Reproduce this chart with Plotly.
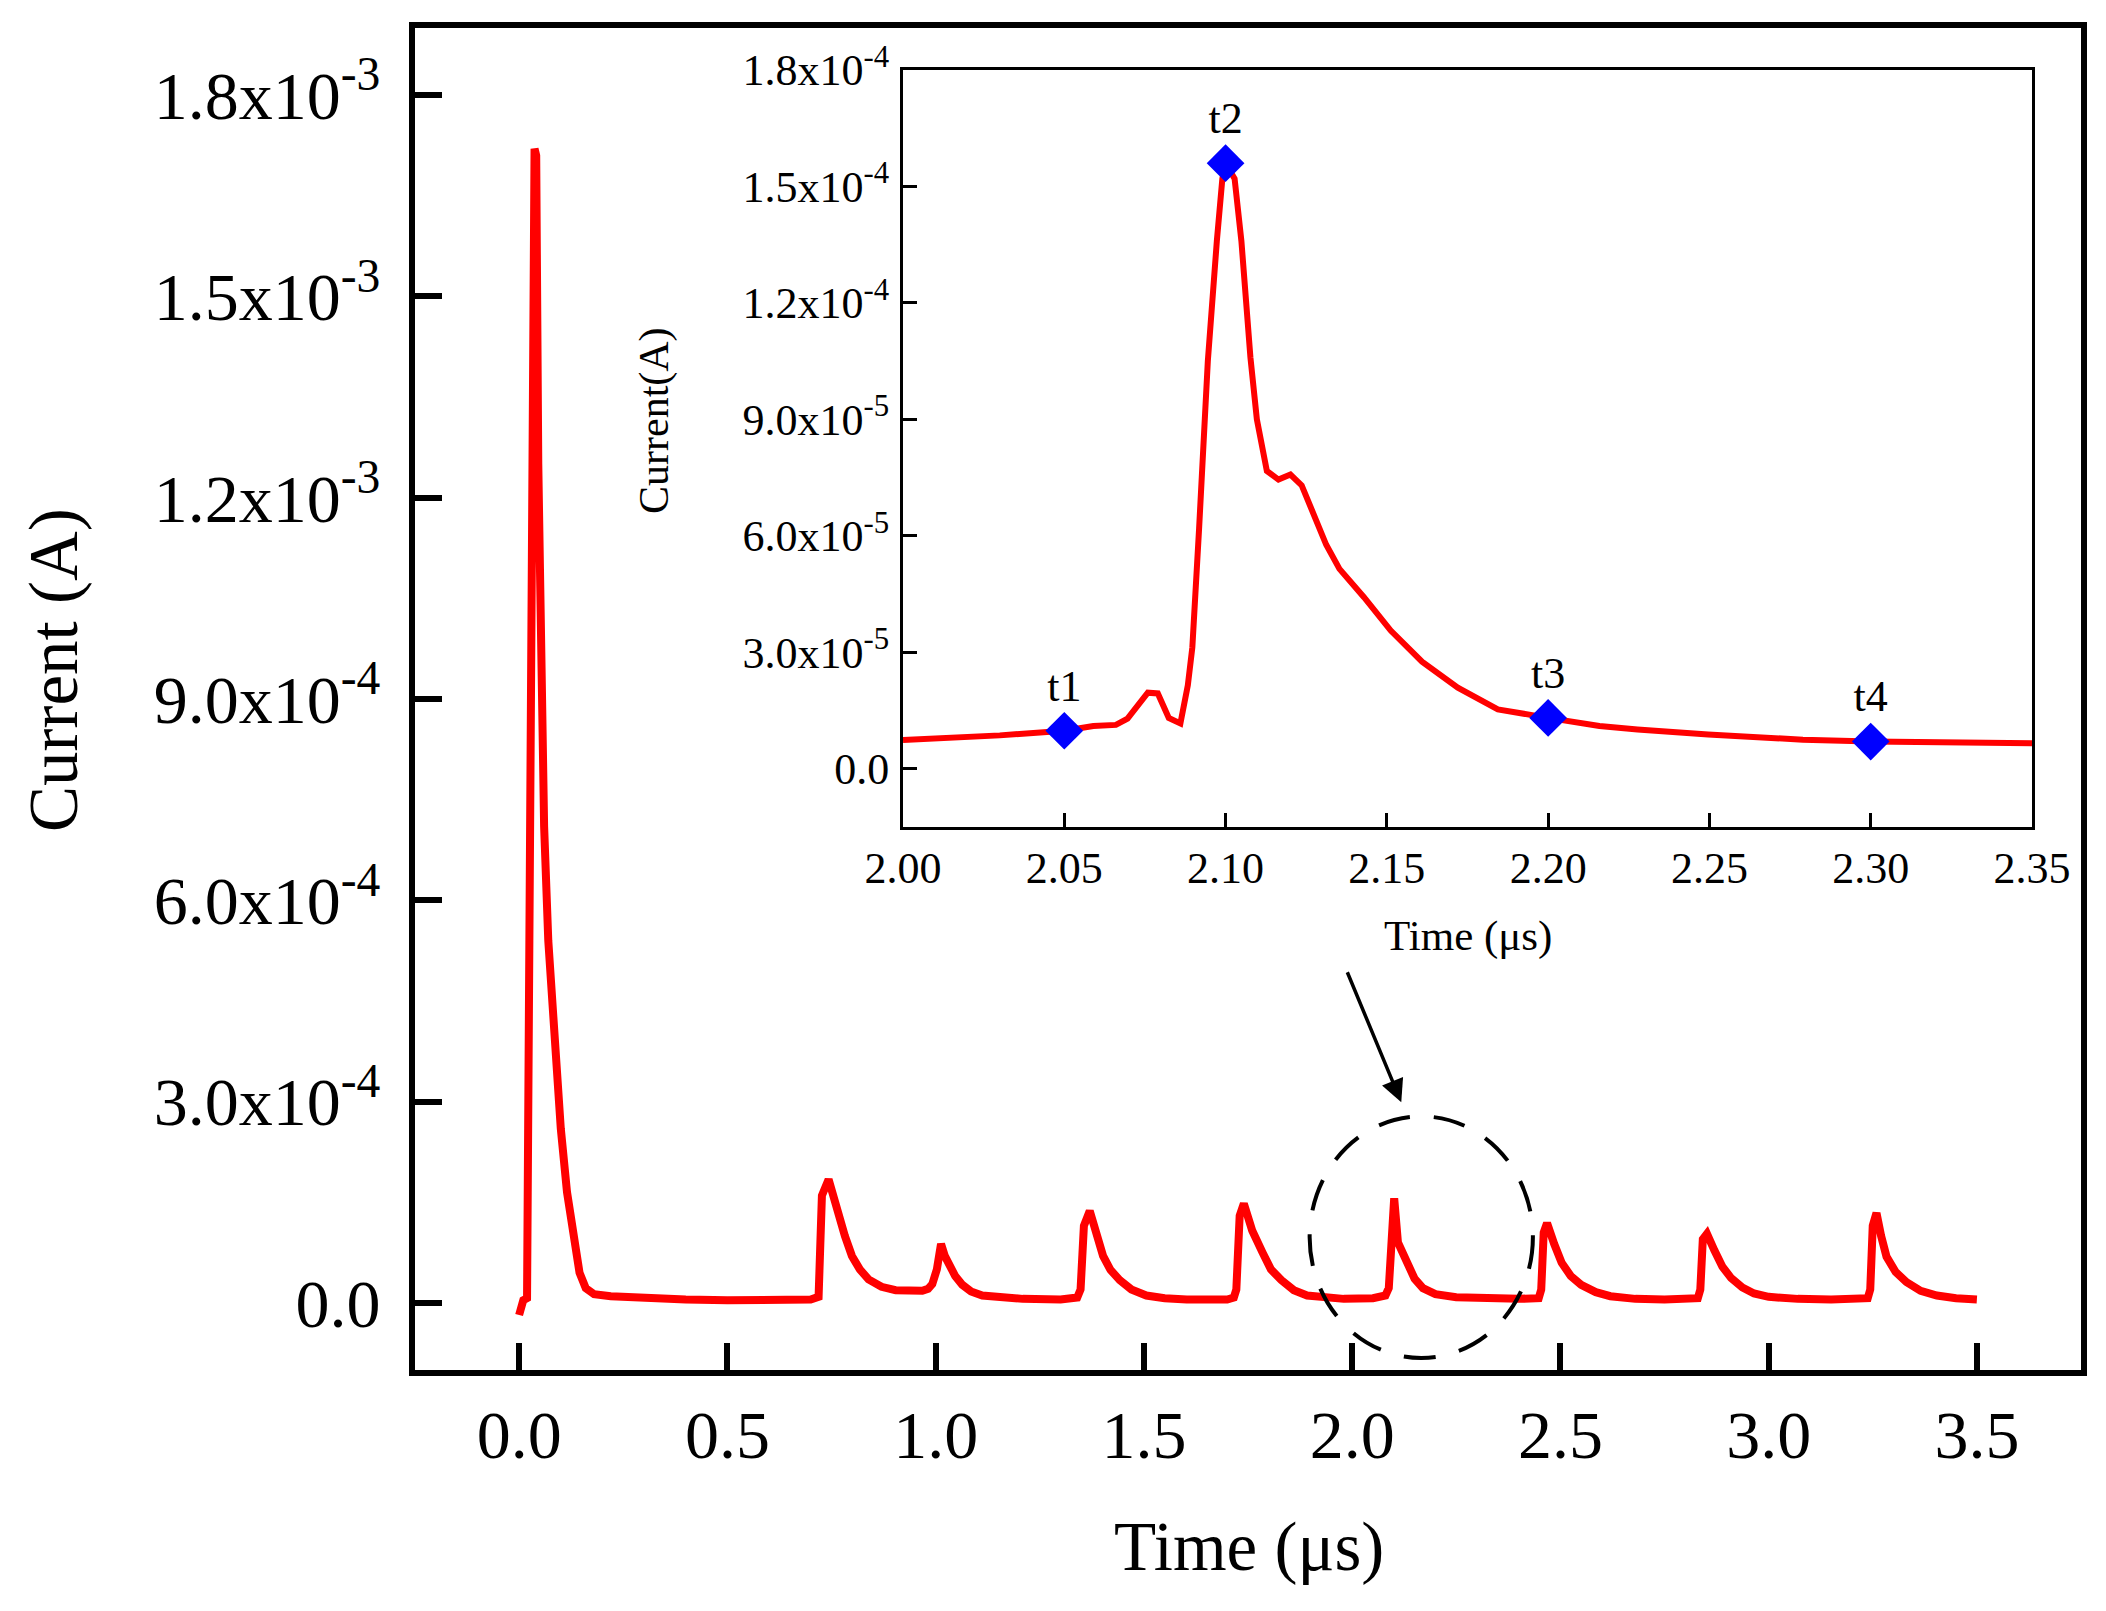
import plotly.graph_objects as go

# main trace (time in us, current in A), one line per pulse
time_main = [0.000, 0.006, 0.010, 0.019, 0.037, 0.041, 0.046, 0.052, 0.060, 0.070,
             0.085, 0.100, 0.115, 0.130, 0.145, 0.160, 0.180, 0.220, 0.300, 0.400,
             0.500, 0.600, 0.700,
             0.719, 0.727, 0.743, 0.755, 0.767, 0.782, 0.799, 0.818, 0.839, 0.870, 0.904, 0.940, 0.968,
             0.982, 0.992, 1.003, 1.013, 1.022, 1.032, 1.047, 1.064, 1.085, 1.112, 1.150, 1.209, 1.300,
             1.340, 1.348, 1.356, 1.370, 1.385, 1.402, 1.420, 1.442, 1.470, 1.506, 1.550, 1.603, 1.700,
             1.716, 1.722, 1.730, 1.740, 1.760, 1.785, 1.805, 1.830, 1.860, 1.892, 1.930, 1.980, 2.050,
             2.080, 2.088, 2.096, 2.101, 2.110, 2.120, 2.135, 2.150, 2.170, 2.200, 2.250, 2.300, 2.400,
             2.448, 2.454, 2.460, 2.468, 2.485, 2.503, 2.525, 2.550, 2.585, 2.620, 2.680, 2.750,
             2.830, 2.836, 2.842, 2.852, 2.870, 2.889, 2.910, 2.937, 2.965, 3.000, 3.070, 3.150,
             3.238, 3.244, 3.250, 3.259, 3.270, 3.283, 3.305, 3.331, 3.365, 3.404, 3.450, 3.500]
current_main = [-1.8e-5, -0.5e-5, 0.4e-5, 0.7e-5, 1.72e-3, 1.71e-3, 1.25e-3, 9.2e-4, 7.1e-4, 5.4e-4,
                3.8e-4, 2.6e-4, 1.65e-4, 9.5e-5, 4.5e-5, 2.2e-5, 1.3e-5, 1.0e-5, 7e-6, 5e-6,
                4e-6, 4e-6, 5e-6,
                9e-6, 1.60e-4, 1.84e-4, 1.55e-4, 1.30e-4, 1.0e-4, 7.0e-5, 5.0e-5, 3.5e-5, 2.4e-5, 1.9e-5, 1.7e-5, 1.8e-5,
                2.1e-5, 2.8e-5, 5.0e-5, 8.8e-5, 7.0e-5, 5.7e-5, 4.0e-5, 2.7e-5, 1.7e-5, 1.1e-5, 8e-6, 6e-6, 5e-6,
                8e-6, 2.0e-5, 1.15e-4, 1.37e-4, 1.0e-4, 7.0e-5, 4.9e-5, 3.4e-5, 2.0e-5, 1.1e-5, 7e-6, 5e-6, 5e-6,
                8e-6, 2.0e-5, 1.30e-4, 1.48e-4, 1.08e-4, 7.5e-5, 5.0e-5, 3.4e-5, 1.9e-5, 1.1e-5, 8e-6, 6e-6, 7e-6,
                1.1e-5, 2.2e-5, 1.18e-4, 1.56e-4, 9.0e-5, 7.6e-5, 5.2e-5, 3.6e-5, 2.2e-5, 1.3e-5, 8.5e-6, 7e-6, 6e-6,
                7e-6, 2.0e-5, 1.05e-4, 1.19e-4, 8.8e-5, 6.0e-5, 4.0e-5, 2.7e-5, 1.6e-5, 1.0e-5, 6e-6, 5e-6,
                7e-6, 2.0e-5, 9.5e-5, 1.03e-4, 7.8e-5, 5.4e-5, 3.7e-5, 2.3e-5, 1.4e-5, 9e-6, 6e-6, 5e-6,
                7e-6, 2.0e-5, 1.15e-4, 1.34e-4, 1.0e-4, 6.9e-5, 4.6e-5, 3.1e-5, 1.8e-5, 1.1e-5, 7e-6, 5e-6]

# zoomed pulse around 2.1 us
time_zoom = [2.000, 2.030, 2.050, 2.059, 2.066, 2.0696, 2.0759, 2.079, 2.0824, 2.086,
             2.0883, 2.0897, 2.0918, 2.0945, 2.0973, 2.099, 2.100, 2.1028, 2.1049, 2.1077,
             2.1097, 2.1128, 2.1164, 2.1201, 2.1236, 2.1277, 2.1312, 2.1353, 2.1429, 2.1512,
             2.1609, 2.172, 2.1844, 2.200, 2.2159, 2.2277, 2.2496, 2.279, 2.300, 2.350]
current_zoom = [0.74e-5, 0.86e-5, 0.98e-5, 1.10e-5, 1.13e-5, 1.29e-5, 1.96e-5, 1.94e-5, 1.31e-5, 1.17e-5,
                2.15e-5, 3.13e-5, 6.2e-5, 10.5e-5, 13.6e-5, 15.2e-5, 15.6e-5, 15.2e-5, 13.6e-5, 10.6e-5,
                9.0e-5, 7.67e-5, 7.45e-5, 7.58e-5, 7.3e-5, 6.5e-5, 5.77e-5, 5.15e-5, 4.42e-5, 3.56e-5,
                2.76e-5, 2.09e-5, 1.53e-5, 1.31e-5, 1.10e-5, 1.01e-5, 0.88e-5, 0.75e-5, 0.70e-5, 0.66e-5]

mark_time = [2.05, 2.10, 2.20, 2.30]
mark_current = [0.98e-5, 1.56e-4, 1.31e-5, 0.70e-5]
mark_labels = ["t1", "t2", "t3", "t4"]

main_yvals = [0, 3e-4, 6e-4, 9e-4, 1.2e-3, 1.5e-3, 1.8e-3]
main_ytext = ["0.0", "3.0x10<sup>-4</sup>", "6.0x10<sup>-4</sup>", "9.0x10<sup>-4</sup>",
              "1.2x10<sup>-3</sup>", "1.5x10<sup>-3</sup>", "1.8x10<sup>-3</sup>"]
zoom_yvals = [0, 3e-5, 6e-5, 9e-5, 1.2e-4, 1.5e-4, 1.8e-4]
zoom_ytext = ["0.0", "3.0x10<sup>-5</sup>", "6.0x10<sup>-5</sup>", "9.0x10<sup>-5</sup>",
              "1.2x10<sup>-4</sup>", "1.5x10<sup>-4</sup>", "1.8x10<sup>-4</sup>"]

FONT = "Liberation Serif"
W, H = 2106, 1611
S = 8  # the page body has an 8px margin, pull everything back by that much


def px(x):
    return (x - S) / W


def py(y):
    return 1 - (y - S) / H


fig = go.Figure()
fig.add_trace(go.Scatter(x=time_main, y=current_main, mode="lines",
                         line=dict(color="#ff0000", width=8), xaxis="x", yaxis="y"))
fig.add_trace(go.Scatter(x=time_zoom, y=current_zoom, mode="lines",
                         line=dict(color="#ff0000", width=6), xaxis="x2", yaxis="y2"))
fig.add_trace(go.Scatter(x=mark_time, y=mark_current, mode="markers+text",
                         text=mark_labels, textposition="top center",
                         textfont=dict(family=FONT, size=44, color="black"),
                         marker=dict(symbol="diamond", size=29, color="#0000ff"),
                         xaxis="x2", yaxis="y2"))

# no automargin: the plot areas are placed by hand through the domains
axis_common = dict(showgrid=False, zeroline=False, linecolor="black", mirror=True,
                   ticks="inside", tickcolor="black", automargin=False)

fig.update_layout(
    width=W, height=H,
    margin=dict(l=0, r=0, t=0, b=0),
    paper_bgcolor="white", plot_bgcolor="white",
    showlegend=False,
    font=dict(family=FONT, color="black"),
    xaxis=dict(**axis_common, domain=[px(415), px(2081)], range=[-0.25, 3.75],
               tickvals=[0, 0.5, 1.0, 1.5, 2.0, 2.5, 3.0, 3.5], tickformat=".1f",
               linewidth=6, tickwidth=6, ticklen=27, ticklabelstandoff=0,
               tickfont=dict(family=FONT, size=68)),
    yaxis=dict(**axis_common, domain=[py(1370), py(28)], range=[-1e-4, 1.9e-3],
               tickvals=main_yvals, ticktext=main_ytext,
               linewidth=6, tickwidth=6, ticklen=27, ticklabelstandoff=15,
               tickfont=dict(family=FONT, size=68)),
    xaxis2=dict(**axis_common, domain=[px(903), px(2032)], range=[2.0, 2.35],
                anchor="y2", tickvals=[2.0, 2.05, 2.1, 2.15, 2.2, 2.25, 2.3, 2.35],
                tickformat=".2f", linewidth=3, tickwidth=3, ticklen=14,
                ticklabelstandoff=0, tickfont=dict(family=FONT, size=44)),
    yaxis2=dict(**axis_common, domain=[py(827), py(70)], range=[-1.5e-5, 1.8e-4],
                anchor="x2", tickvals=zoom_yvals, ticktext=zoom_ytext,
                linewidth=3, tickwidth=3, ticklen=14, ticklabelstandoff=2,
                tickfont=dict(family=FONT, size=44)),
)

# axis titles
titles = [("Time (μs)", 1249, 1547, 0, 69),
          ("Current (A)", 54, 670, -90, 69),
          ("Time (μs)", 1468, 936, 0, 43),
          ("Current(A)", 654, 421, -90, 42)]
for text, tx, ty, ang, size in titles:
    fig.add_annotation(text=text, xref="paper", yref="paper", x=px(tx), y=py(ty),
                       xanchor="center", yanchor="middle", textangle=ang,
                       showarrow=False, font=dict(family=FONT, size=size))

# dashed ellipse around the zoomed pulse, and the arrow pointing at it
fig.add_shape(type="circle", xref="x", yref="y", x0=1.898, x1=2.434, y0=-8.2e-5, y1=2.78e-4,
              line=dict(color="black", width=4, dash="32px,24px"))
fig.add_annotation(x=2.118, y=2.99e-4, ax=1.987, ay=4.95e-4, xref="x", yref="y",
                   axref="x", ayref="y", text="", showarrow=True, arrowhead=2,
                   arrowsize=1.3, arrowwidth=3.5, arrowcolor="black")

fig.write_html("out.html")
